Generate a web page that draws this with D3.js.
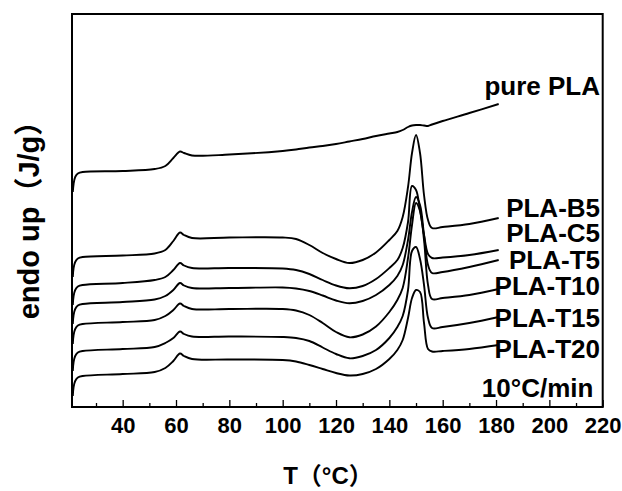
<!DOCTYPE html>
<html>
<head>
<meta charset="utf-8">
<script src="https://cdn.jsdelivr.net/npm/d3@7"></script>
<style>
  body { margin: 0; background: #fff; }
  svg { display: block; }
  text { font-family: "Liberation Sans", Arial, "Noto Sans CJK SC", sans-serif; font-weight: bold; fill: #000; }
</style>
</head>
<body>
<svg id="chart" width="622" height="491"></svg>
<script>
// temperature grid shared by every DSC trace (degC)
const temps = [21.3, 21.6, 22.2, 23.2, 25, 40, 52, 56, 59, 61.5, 63, 66, 80, 100, 105,
  110, 115, 120, 125, 130, 135, 140, 143, 145, 147, 148.5, 150, 151.5, 153, 154.5,
  156, 160, 170, 181]

// heat flow, endo up (arbitrary units, curves are stacked)
const purePLA = [21.5, 22.3, 23.0, 23.35, 23.5, 23.6, 23.8, 24.1, 24.9, 25.55, 25.4, 25.15, 25.25, 25.6, 25.75,
  25.95, 26.1, 26.3, 26.55, 26.8, 27.1, 27.35, 27.5, 27.7, 28.0, 28.15, 28.2, 28.2, 28.15, 28.1,
  28.25, 28.6, 29.4, 30.3]
const plaB5 = [13.0, 13.9, 14.5, 14.85, 15.0, 15.15, 15.35, 15.7, 16.6, 17.45, 17.2, 16.9, 16.95, 16.95, 16.8,
  16.2, 15.4, 14.8, 14.4, 14.7, 15.45, 16.7, 17.6, 19.0, 22.0, 25.4, 27.2, 25.4, 21.2, 18.7,
  17.9, 18.0, 18.3, 18.9]
const plaC5 = [10.2, 11.1, 11.7, 12.05, 12.2, 12.4, 12.7, 13.0, 13.7, 14.4, 14.15, 13.9, 13.9, 13.85, 13.7,
  13.3, 12.7, 12.15, 11.87, 12.1, 12.8, 13.9, 14.7, 15.9, 18.5, 22.1, 21.7, 19.7, 17.2, 15.3,
  14.9, 14.95, 15.2, 15.7]
const plaT5 = [8.3, 9.2, 9.8, 10.15, 10.3, 10.5, 10.75, 11.1, 11.7, 12.4, 12.15, 11.9, 11.9, 11.95, 11.85,
  11.6, 11.15, 10.65, 10.37, 10.6, 11.2, 12.2, 13.1, 14.2, 16.7, 19.5, 21.0, 20.2, 17.2, 14.2,
  13.4, 13.5, 14.0, 14.7]
const plaT10 = [6.3, 7.2, 7.8, 8.15, 8.3, 8.5, 8.7, 9.1, 9.7, 10.35, 10.1, 9.8, 9.8, 9.8, 9.65,
  9.2, 8.4, 7.5, 6.97, 7.25, 8.05, 9.5, 10.7, 11.9, 14.9, 18.2, 20.4, 19.6, 16.7, 12.2,
  10.8, 10.9, 11.2, 11.8]
const plaT15 = [3.6, 4.5, 5.1, 5.45, 5.6, 5.8, 6.0, 6.4, 6.9, 7.55, 7.3, 7.05, 7.05, 7.0, 6.9,
  6.6, 5.95, 5.3, 4.87, 5.1, 5.7, 6.9, 8.0, 9.1, 11.7, 15.6, 16.0, 14.8, 12.2, 8.9,
  7.9, 8.0, 8.4, 9.0]
const plaT20 = [1.1, 2.0, 2.6, 2.95, 3.1, 3.3, 3.5, 3.9, 4.6, 5.35, 5.1, 4.8, 4.75, 4.7, 4.55,
  4.2, 3.8, 3.4, 3.15, 3.3, 3.8, 4.8, 5.7, 6.7, 8.9, 10.9, 11.7, 11.5, 8.4, 5.8,
  5.55, 5.6, 5.8, 6.2]

const seriesNames = ['pure PLA', 'PLA-B5', 'PLA-C5', 'PLA-T5', 'PLA-T10', 'PLA-T15', 'PLA-T20']
const seriesValues = [purePLA, plaB5, plaC5, plaT5, plaT10, plaT15, plaT20]

// where each name sits (temperature of right edge, heat flow of baseline)
const labelTemp = 219
const labelValues = [31.2, 19.0, 16.5, 13.8, 11.2, 8.0, 4.9]
const rateText = '10°C/min'
const rateAnchor = [216.5, 1.0]

const majorTicks = [40, 60, 80, 100, 120, 140, 160, 180, 200, 220]
const minorTicks = [30, 50, 70, 90, 110, 130, 150, 170, 190, 210]

const margin = { top: 14, right: 19.3, bottom: 84, left: 72 }
const width = 622
const height = 491

const xScale = d3.scaleLinear()
  .domain([21, 220])
  .range([margin.left, width - margin.right])
const yScale = d3.scaleLinear()
  .domain([0, 39.3])
  .range([height - margin.bottom, margin.top])

const svg = d3.select('#chart')

// curves
const line = d3.line()
  .x((d) => xScale(d[0]))
  .y((d) => yScale(d[1]))
  .curve(d3.curveCatmullRom.alpha(0.5))

svg.append('g')
  .selectAll('path')
  .data(seriesValues)
  .join('path')
  .attr('d', (vals) => line(temps.map((t, i) => [t, vals[i]])))
  .attr('fill', 'none')
  .attr('stroke', '#000')
  .attr('stroke-width', 1.9)
  .attr('stroke-linejoin', 'round')

// bottom axis, ticks pointing inwards
const axisY = height - margin.bottom
const xAxis = d3.axisBottom(xScale)
  .tickValues(majorTicks)
  .tickSize(-7)
  .tickFormat(d3.format('d'))
const gx = svg.append('g')
  .attr('transform', `translate(0,${axisY})`)
  .call(xAxis)
gx.select('.domain').remove()
gx.selectAll('line').attr('stroke', '#000').attr('stroke-width', 1.3)
gx.selectAll('text')
  .attr('y', 25.5)
  .attr('dy', null)
  .style('font-size', '22px')
  .style('font-family', '"Liberation Sans", Arial, sans-serif')
  .style('font-weight', 'bold')

const xMinor = d3.axisBottom(xScale)
  .tickValues(minorTicks)
  .tickSize(-4)
  .tickFormat('')
const gm = svg.append('g')
  .attr('transform', `translate(0,${axisY})`)
  .call(xMinor)
gm.select('.domain').remove()
gm.selectAll('line').attr('stroke', '#000').attr('stroke-width', 1.3)

// frame
svg.append('rect')
  .attr('x', xScale(21))
  .attr('y', yScale(39.3))
  .attr('width', xScale(220) - xScale(21))
  .attr('height', yScale(0) - yScale(39.3))
  .attr('fill', 'none')
  .attr('stroke', '#000')
  .attr('stroke-width', 2)

// series names
svg.append('g')
  .selectAll('text')
  .data(seriesNames)
  .join('text')
  .attr('x', xScale(labelTemp))
  .attr('y', (d, i) => yScale(labelValues[i]))
  .attr('text-anchor', 'end')
  .style('font-size', '26px')
  .text((d) => d)

svg.append('text')
  .attr('x', xScale(rateAnchor[0]))
  .attr('y', yScale(rateAnchor[1]))
  .attr('text-anchor', 'end')
  .style('font-size', '26px')
  .text(rateText)

// axis titles
svg.append('text')
  .attr('x', 328)
  .attr('y', 484)
  .attr('text-anchor', 'middle')
  .style('font-size', '24px')
  .text('T（°C）')

svg.append('text')
  .attr('transform', 'translate(38.5,213) rotate(-90)')
  .attr('text-anchor', 'middle')
  .style('font-size', '29px')
  .text('endo up（J/g）')
</script>
</body>
</html>
